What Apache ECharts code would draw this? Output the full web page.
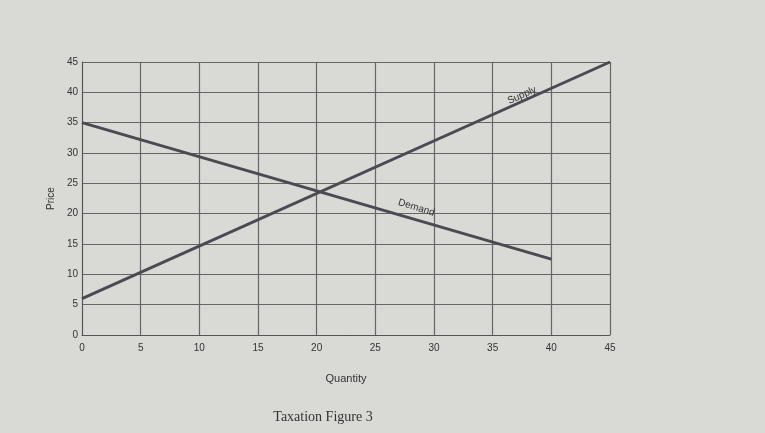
<!DOCTYPE html>
<html><head><meta charset="utf-8">
<script src="https://cdn.jsdelivr.net/npm/echarts@6/dist/echarts.min.js"></script>
<style>html,body{margin:0;padding:0;background:#d9d9d6}#c{width:765px;height:433px}</style>
</head><body><div id="c"></div>
<script>
const supply=[[0,6],[45,45]];
const demand=[[0,35],[40,12.5]];
const ticks=[0,5,10,15,20,25,30,35,40,45];
const ch=echarts.init(document.getElementById('c'));
const ax={type:'value',min:0,max:45,interval:5,axisLine:{show:true,lineStyle:{color:'#555'}},axisTick:{show:false},
 splitLine:{show:true,lineStyle:{color:'#666',width:1.2}},axisLabel:{color:'#333',fontSize:10,fontFamily:'Liberation Sans'}};
ch.setOption({
 backgroundColor:'#d9d9d6',
 grid:{left:82,right:155,top:62,bottom:98},
 title:{text:'Taxation Figure 3',left:318,top:405,textAlign:'center',textStyle:{fontFamily:'Liberation Serif',fontWeight:'normal',fontSize:14,color:'#333'}},
 xAxis:Object.assign({},ax,{name:'Quantity',nameLocation:'middle',nameGap:38,nameTextStyle:{color:'#333',fontSize:11}}),
 yAxis:Object.assign({},ax,{axisLabel:Object.assign({},ax.axisLabel,{margin:4}),name:'Price',nameLocation:'middle',nameGap:14,nameTextStyle:{color:'#333',fontSize:10}}),
 series:[
  {type:'line',data:supply,symbol:'none',lineStyle:{color:'#4a4a52',width:3},
   markPoint:{symbol:'circle',symbolSize:0,data:[{coord:[37.5,39.5],label:{show:true,formatter:'Supply',rotate:24,color:'#333',fontSize:10}}]}},
  {type:'line',data:demand,symbol:'none',lineStyle:{color:'#4a4a52',width:3},
   markPoint:{symbol:'circle',symbolSize:0,data:[{coord:[28.5,21],label:{show:true,formatter:'Demand',rotate:-17,color:'#333',fontSize:10}}]}}
 ]
});
</script></body></html>
